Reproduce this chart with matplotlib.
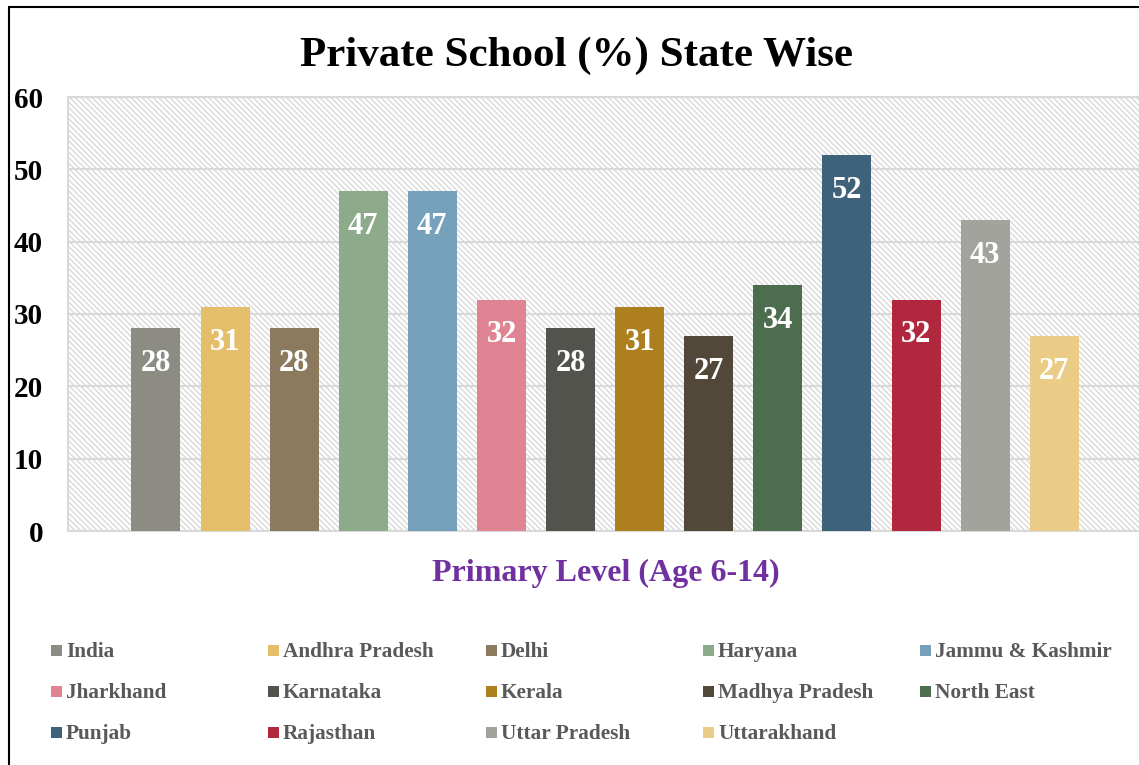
import matplotlib
matplotlib.use("Agg")
import matplotlib.pyplot as plt
from matplotlib.patches import Rectangle

plt.rcParams["font.family"] = ["Liberation Serif", "DejaVu Serif"]
plt.rcParams["hatch.linewidth"] = 1.1

# --- data --------------------------------------------------------------------
states = ["India", "Andhra Pradesh", "Delhi", "Haryana", "Jammu & Kashmir",
          "Jharkhand", "Karnataka", "Kerala", "Madhya Pradesh", "North East",
          "Punjab", "Rajasthan", "Uttar Pradesh", "Uttarakhand"]
private_pct = [28, 31, 28, 47, 47, 32, 28, 31, 27, 34, 52, 32, 43, 27]
colors = ["#8c8c84", "#e5be6a", "#8b7a5e", "#8daa8b", "#76a1ba",
          "#e08494", "#53534d", "#ad7f1f", "#524839", "#4c6e4e",
          "#3e627a", "#b0273e", "#a3a39d", "#eacc86"]
yticks = [0, 10, 20, 30, 40, 50, 60]

W, H = 1139, 765
fig = plt.figure(figsize=(W / 100, H / 100), dpi=100)
fig.patch.set_facecolor("white")

# plot area in pixels: left 68, right 1142, top 97, bottom 531
ax = fig.add_axes([68 / W, 1 - 531 / H, (1142 - 68) / W, (531 - 97) / H])
ax.set_facecolor("white")
# light diagonal hatch as plot-area fill
ax.add_patch(Rectangle((0, 0), 1, 1, transform=ax.transAxes, facecolor="white",
                       edgecolor="#dcdcdc", hatch="\\" * 6,
                       linewidth=0, zorder=0))

x = list(range(len(states)))
ax.bar(x, private_pct, width=0.71, color=colors, zorder=3)
for xi, v in zip(x, private_pct):
    ax.annotate(str(v), xy=(xi, v), xytext=(0, -25.5), textcoords="offset points",
                ha="center", va="center", color="white", fontsize=22,
                fontweight="bold", zorder=4)

ax.set_xlim(-1.273, 14.27)
ax.set_ylim(0, 60)
ax.set_yticks(yticks)
ax.set_xticks([])
ax.grid(axis="y", color="#d9d9d9", lw=1.5, zorder=1)
ax.tick_params(axis="y", length=0, pad=18, labelsize=21)
for lab in ax.get_yticklabels():
    lab.set_fontweight("bold")
for s in ax.spines.values():
    s.set_color("#d9d9d9")
    s.set_linewidth(1.5)

fig.text(576 / W, 1 - 56 / H, "Private School (%) State Wise", ha="center",
         va="center", fontsize=31, fontweight="bold", color="black")
fig.text(606 / W, 1 - 573 / H, "Primary Level (Age 6-14)", ha="center",
         va="center", fontsize=23, fontweight="bold", color="#7030a0")

# legend, filled row-wise, 5 columns
col_x = [51, 268, 486, 703, 920]
row_y = [650, 691, 732]
for i, (name, c) in enumerate(zip(states, colors)):
    cx = col_x[i % 5]
    cy = row_y[i // 5]
    fig.patches.append(Rectangle((cx / W, 1 - (cy + 5.5) / H), 11 / W, 11 / H,
                                 transform=fig.transFigure, facecolor=c,
                                 edgecolor="none"))
    fig.text((cx + 15) / W, 1 - (cy + 2) / H, name, ha="left", va="center",
             fontsize=15.3, fontweight="bold", color="#595959")

# outer chart frame (left and top visible)
fig.patches.append(Rectangle((8.5 / W, -0.05), 1.1, 1 - 7.5 / H + 0.05,
                             transform=fig.transFigure, facecolor="none",
                             edgecolor="black", linewidth=1.5))

fig.savefig("out.png", dpi=100)
